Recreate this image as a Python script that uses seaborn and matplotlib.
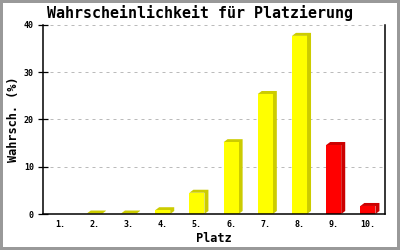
import matplotlib
matplotlib.use("Agg")
import matplotlib.pyplot as plt
import seaborn as sns
import pandas as pd
from matplotlib.patches import Polygon, Rectangle

places = ["1.", "2.", "3.", "4.", "5.", "6.", "7.", "8.", "9.", "10."]
probability = [0.0, 0.1, 0.1, 0.8, 4.5, 15.2, 25.4, 37.7, 14.6, 1.7]
zone = ["ok", "ok", "ok", "ok", "ok", "ok", "ok", "ok", "down", "down"]
y_ticks = [0, 10, 20, 30, 40]

front = {"ok": "#ffff00", "down": "#ff0000"}
side = {"ok": "#cccc00", "down": "#cc0000"}

df = pd.DataFrame({"Platz": places, "Wahrsch": probability, "zone": zone})

sns.set_style("white")
plt.rcParams["font.family"] = ["DejaVu Sans Mono", "DejaVu Sans"]
plt.rcParams["text.color"] = "black"
plt.rcParams["axes.labelcolor"] = "black"
plt.rcParams["xtick.color"] = "black"
plt.rcParams["ytick.color"] = "black"

fig = plt.figure(figsize=(4, 2.5), dpi=100)
fig.patch.set_facecolor("white")
ax = fig.add_axes([43 / 400, 36 / 250, 342 / 400, 189 / 250])

sns.barplot(data=df, x="Platz", y="Wahrsch", hue="zone", palette=front,
            dodge=False, width=0.44, legend=False, ax=ax, saturation=1,
            edgecolor="none", linewidth=0, zorder=3)

ax.set_xlim(-0.5, len(places) - 0.5)
ax.set_ylim(0, 40)

# 3D depth faces
inv = ax.transData.inverted()
p0 = inv.transform((0, 0))
p1 = inv.transform((4, 3))
dx, dy = p1[0] - p0[0], p1[1] - p0[1]
bars = [p for p in ax.patches if isinstance(p, Rectangle)]
bars = sorted(bars, key=lambda b: b.get_x())
for b in bars:
    h = b.get_height()
    if h <= 0:
        b.set_visible(False)
        continue
    x0 = b.get_x()
    x1 = x0 + b.get_width()
    idx = int(round(x0 + b.get_width() / 2))
    col = side[zone[idx]]
    poly = Polygon([(x0, h), (x0 + dx, h + dy), (x1 + dx, h + dy),
                    (x1 + dx, dy), (x1, 0), (x1, h)], closed=True,
                   facecolor=col, edgecolor="none", zorder=2)
    ax.add_patch(poly)

ax.set_yticks(y_ticks)
ax.set_yticklabels([str(t) for t in y_ticks])
ax.yaxis.grid(True, color="#bbbbbb", linestyle=(0, (3, 4)), linewidth=0.72, zorder=0)
ax.xaxis.grid(False)
ax.set_axisbelow(True)

for s in ["left", "bottom", "right"]:
    ax.spines[s].set_visible(True)
    ax.spines[s].set_color("black")
    ax.spines[s].set_linewidth(1.1)
    ax.spines[s].set_zorder(5)
ax.spines["top"].set_visible(False)

ax.tick_params(axis="y", direction="inout", length=7.2, width=0.9, color="black",
               labelcolor="black", labelsize=6, pad=3, left=True)
ax.tick_params(axis="x", length=0, labelsize=6, pad=4.5, labelcolor="black")
for lab in ax.get_xticklabels() + ax.get_yticklabels():
    lab.set_fontweight("bold")

ax.set_xlabel("Platz", fontsize=8.6, fontweight="bold", labelpad=2, color="black")
ax.set_ylabel("Wahrsch. (%)", fontsize=8.6, fontweight="bold", labelpad=2.5, color="black")
fig.text(0.5, 1 - 13 / 250, "Wahrscheinlichkeit für Platzierung",
         ha="center", va="center", fontsize=10.8, fontweight="bold", color="black")

fig.patch.set_edgecolor("#999999")
fig.patch.set_linewidth(2.9)

fig.savefig("out.png", dpi=100, facecolor=fig.get_facecolor(), edgecolor=fig.get_edgecolor())
